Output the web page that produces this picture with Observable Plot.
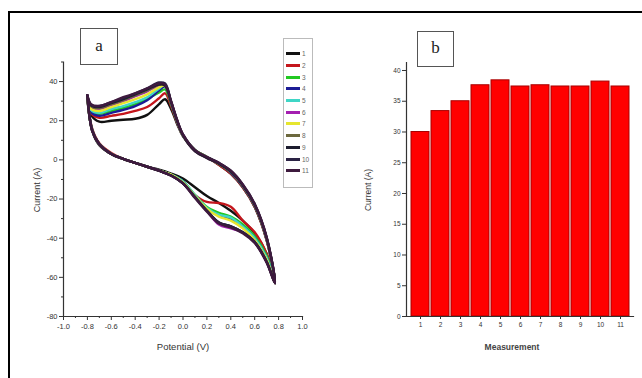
<!DOCTYPE html>
<html><head><meta charset="utf-8">
<script src="https://cdn.jsdelivr.net/npm/d3@7"></script>
<script src="https://cdn.jsdelivr.net/npm/@observablehq/plot@0.6"></script>
<style>
body{margin:0;background:#fff;width:642px;height:378px;overflow:hidden;position:relative;font-family:"Liberation Sans",Arial,sans-serif;}
#frame{position:absolute;left:8px;top:11px;width:650px;height:390px;border-top:2px solid #000;border-left:2px solid #000;}
#a,#b{position:absolute;top:0}
#a{left:0}#b{left:330px}
.tag{position:absolute;box-sizing:border-box;border:1.5px solid #555;font-family:"Liberation Serif",serif;font-size:17px;text-align:center;background:#fff;color:#222}
.title{position:absolute;font-size:9px;color:#333;white-space:nowrap}
.rot{transform:translate(-50%,-50%) rotate(-90deg)}
.hz{transform:translate(-50%,-50%)}
#legend{position:absolute;left:283px;top:38px;width:30px;height:150px;box-sizing:border-box;border:1px solid #bbb;background:#fff;padding-top:9px}
.lg{height:11.7px;display:flex;align-items:center;font-size:6.5px;color:#666}
.lg span.ln{display:inline-block;width:14px;height:3px;margin-left:2px;margin-right:2px}
</style></head>
<body>
<div id="frame"></div>
<div id="a"></div>
<div id="b"></div>
<script>
// ---- Panel a: cyclic voltammograms (11 cycles) ----
const cycleNames = ["1","2","3","4","5","6","7","8","9","10","11"];
const cycleColors = ["#111111","#c4161c","#22c922","#1c1c96","#3fd6c6","#a41fb0","#e6e62e","#6c683e","#1c1c2e","#2a2244","#3e1a3e"];
const potentialForward = [-0.8,-0.77,-0.7,-0.6,-0.5,-0.4,-0.3,-0.2,-0.15,-0.1,-0.05,0.0,0.1,0.2,0.3,0.4,0.5,0.6,0.7,0.77];
const potentialReverse = [0.7,0.6,0.5,0.4,0.3,0.2,0.1,0.0,-0.1,-0.2,-0.3,-0.4,-0.5,-0.6,-0.7,-0.76,-0.8];

const cycle1Fwd  = [31,23,19.5,20,20.5,21,23,28.5,31,26,18.5,12,5,1.5,-2.5,-7,-14,-24,-41,-62];
const cycle1Rev  = [-48,-37.5,-31,-26,-22,-18.5,-14,-9.5,-7,-5,-3.5,-1.5,0.5,3,7.5,15,31];
const cycle2Fwd  = [31,24,21.5,22.5,23.5,25,27,31.5,34,27.5,19,12.5,5,1.5,-2.5,-7,-14,-24,-41,-62];
const cycle2Rev  = [-48,-37,-31,-24,-22,-21.5,-18,-11.5,-7.5,-5.5,-3.5,-1.5,0.5,3.5,8.5,16,31];
const cycle3Fwd  = [32,25,23.5,25,26.5,28.5,31,34.5,36,28.5,19.5,12.5,5,1.5,-2,-6.5,-13.5,-23.5,-40.5,-62.5];
const cycle3Rev  = [-49,-39,-33,-29,-27,-24,-18,-11,-7.5,-5.5,-3.5,-1.5,0.5,3,8,15.5,32];
const cycle4Fwd  = [32,24.5,22.5,24,25.5,27.5,30.5,35.5,37.5,29,19.5,12.5,5,1.5,-2,-6.5,-13.5,-23.5,-40.5,-62.5];
const cycle4Rev  = [-50,-40,-34,-30,-28.5,-25,-18.5,-11,-7.5,-5.5,-3.5,-1.5,0.5,3,8,15.5,32];
const cycle5Fwd  = [32,25.5,24,26,27.5,29.5,32,36.5,38.5,29.5,20,12.5,5,1.5,-2,-6,-13,-23,-40,-63];
const cycle5Rev  = [-50,-40,-34,-29.5,-28,-24.5,-18,-11,-7.5,-5.5,-3.5,-1.5,0.5,3,8,15,32];
const cycle6Fwd  = [33,27,26,28,30,32.5,35,38,38,29.5,20,12.5,4.5,1,-2,-6,-13,-23,-40,-63];
const cycle6Rev  = [-52,-42,-37,-35,-33,-26,-19,-12,-8,-5.5,-3.5,-1.5,0.5,3,8,15,33];
const cycle7Fwd  = [32.5,26,25,27,29,31,33.5,37,38,29.5,20,12.5,5,1.5,-2,-6,-13,-23,-40,-63];
const cycle7Rev  = [-51,-41,-35,-31,-29,-25,-18.5,-11.5,-7.5,-5.5,-3.5,-1.5,0.5,3,8,15,32.5];
const cycle8Fwd  = [33,27.5,26.5,28.5,30.5,33,35.5,38.5,38,29.5,20,12.5,4.5,1,-2,-6,-13,-23,-40,-63];
const cycle8Rev  = [-52,-42,-37,-34,-32,-26,-19,-12,-8,-5.5,-3.5,-1.5,0.5,3,8,15,33];
const cycle9Fwd  = [33,28,27,29,31,33.5,36,38.5,38,29.5,20,12.5,4.5,1,-2,-6,-13,-23,-40,-63];
const cycle9Rev  = [-52,-42,-37,-34,-32,-26,-19,-12,-8,-5.5,-3.5,-1.5,0.5,3,8,15,33];
const cycle10Fwd = [33,28,27.5,29.5,31.5,34,36.5,39.5,39,30,20.5,13,5,1.5,-1.5,-5.5,-12.5,-22.5,-39.5,-63];
const cycle10Rev = [-52,-42,-37,-34,-32,-26,-19,-12,-8,-5.5,-3.5,-1.5,0.5,3,8,15,33];
const cycle11Fwd = [33,28.5,27.5,29.5,32,34,36.5,39,38.5,30,20.5,13,5,1.5,-1.5,-5.5,-12.5,-22.5,-39.5,-63];
const cycle11Rev = [-52.5,-42.5,-37.5,-34.5,-32.5,-26.5,-19.5,-12,-8,-5.5,-3.5,-1.5,0.5,3,8,15,33];

const cyclesFwd = [cycle1Fwd,cycle2Fwd,cycle3Fwd,cycle4Fwd,cycle5Fwd,cycle6Fwd,cycle7Fwd,cycle8Fwd,cycle9Fwd,cycle10Fwd,cycle11Fwd];
const cyclesRev = [cycle1Rev,cycle2Rev,cycle3Rev,cycle4Rev,cycle5Rev,cycle6Rev,cycle7Rev,cycle8Rev,cycle9Rev,cycle10Rev,cycle11Rev];

const xTicksA = [-1.0,-0.8,-0.6,-0.4,-0.2,0.0,0.2,0.4,0.6,0.8,1.0];
const xMinorA = [-0.9,-0.7,-0.5,-0.3,-0.1,0.1,0.3,0.5,0.7,0.9];
const yTicksA = [-80,-60,-40,-20,0,20,40];
const yMinorA = [-70,-50,-30,-10,10,30,50];

// ---- Panel b: peak current per measurement ----
const measurements = ["1","2","3","4","5","6","7","8","9","10","11"];
const peakCurrent = [30,33.4,35,37.6,38.4,37.4,37.6,37.4,37.4,38.2,37.4];
const yTicksB = [0,5,10,15,20,25,30,35,40];

// build rows
const cvRows = [];
cycleNames.forEach((c, i) => {
  potentialForward.forEach((v, j) => cvRows.push({cycle: c, potential: v, current: cyclesFwd[i][j]}));
  potentialReverse.forEach((v, j) => cvRows.push({cycle: c, potential: v, current: cyclesRev[i][j]}));
});
const barRows = measurements.map((m, i) => ({measurement: m, current: peakCurrent[i]}));

const axisStyle = {fontFamily: "Liberation Sans, Arial, sans-serif", fontSize: "7.5px", color: "#333", background: "transparent", overflow: "visible"};

const plotA = Plot.plot({
  width: 330, height: 378,
  marginLeft: 63, marginRight: 28, marginTop: 61.5, marginBottom: 62,
  x: {domain: [-1, 1], label: null},
  y: {domain: [-80, 50], label: null},
  color: {type: "ordinal", domain: cycleNames, range: cycleColors},
  style: axisStyle,
  marks: [
    Plot.line(cvRows, {x: "potential", y: "current", z: "cycle", stroke: "cycle", curve: "catmull-rom", strokeWidth: 2.4, strokeLinejoin: "round"}),
    Plot.frame({anchor: "left", stroke: "#333", strokeWidth: 1.2}),
    Plot.frame({anchor: "bottom", stroke: "#333", strokeWidth: 1.2}),
    Plot.axisX({ticks: xTicksA, tickSize: 4, tickPadding: 3, tickFormat: d => d.toFixed(1), label: null, stroke: "#333"}),
    Plot.axisX({ticks: xMinorA, tickSize: 2, tickFormat: () => "", label: null, stroke: "#333"}),
    Plot.axisY({ticks: yTicksA, tickSize: 4, tickPadding: 2, tickFormat: d => String(d), label: null, stroke: "#333"}),
    Plot.axisY({ticks: yMinorA, tickSize: 2, tickFormat: () => "", label: null, stroke: "#333"})
  ]
});
document.getElementById("a").append(plotA);

const plotB = Plot.plot({
  width: 312, height: 378,
  marginLeft: 76, marginRight: 9, marginTop: 62, marginBottom: 62,
  x: {domain: measurements, paddingInner: 0.12, paddingOuter: 0, label: null},
  y: {domain: [0, 41.3], label: null},
  style: {...axisStyle, fontSize: "6.5px"},
  marks: [
    Plot.barY(barRows, {x: "measurement", y: "current", fill: "#ff0000", stroke: "#a80000", strokeWidth: 1}),
    Plot.frame({anchor: "left", stroke: "#333", strokeWidth: 1.2}),
    Plot.frame({anchor: "bottom", stroke: "#333", strokeWidth: 1.2}),
    Plot.axisX({tickSize: 3, tickPadding: 3, label: null, stroke: "#333"}),
    Plot.axisY({ticks: yTicksB, tickSize: 4, tickPadding: 2, tickFormat: d => String(d), label: null, stroke: "#333"})
  ]
});
document.getElementById("b").append(plotB);

// titles, panel tags, legend
function addText(txt, cls, x, y, extra) {
  const d = document.createElement("div");
  d.className = cls; d.textContent = txt;
  d.style.left = x + "px"; d.style.top = y + "px";
  if (extra) Object.assign(d.style, extra);
  document.body.append(d);
  return d;
}
addText("Potential (V)", "title hz", 183, 346, {fontSize: "9.5px"});
addText("Current (A)", "title rot", 37, 190, {fontSize: "9px"});
addText("Measurement", "title hz", 512, 347, {fontSize: "8.5px", fontWeight: "bold", color: "#444"});
addText("Current (A)", "title rot", 368, 190, {fontSize: "8.5px"});
addText("a", "tag", 80, 28, {width: "38px", height: "37px", lineHeight: "33px"});
addText("b", "tag", 417, 31, {width: "37px", height: "36px", lineHeight: "32px"});

const legend = document.createElement("div");
legend.id = "legend";
cycleNames.forEach((c, i) => {
  const row = document.createElement("div");
  row.className = "lg";
  const ln = document.createElement("span");
  ln.className = "ln"; ln.style.background = cycleColors[i];
  const lb = document.createElement("span");
  lb.textContent = c;
  row.append(ln, lb);
  legend.append(row);
});
document.body.append(legend);
</script>
</body></html>
